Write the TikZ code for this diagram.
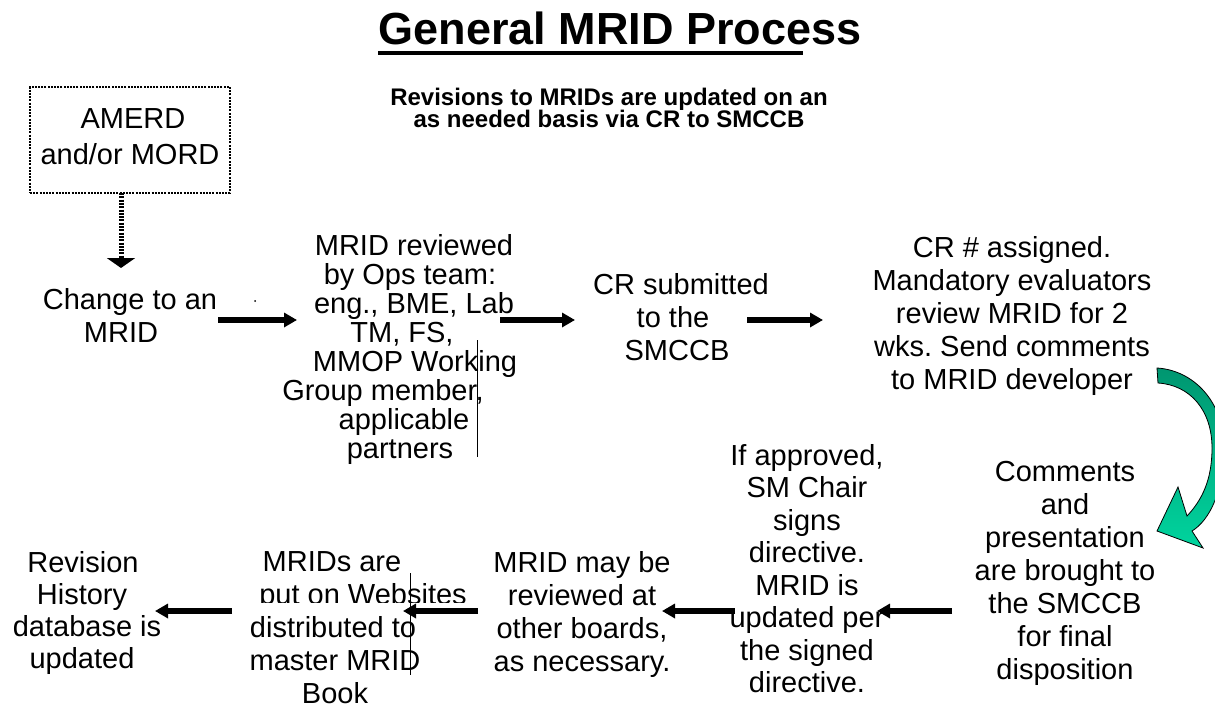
\documentclass[tikz,border=0pt]{standalone}
\usepackage{fontspec}
\setmainfont{Liberation Sans}
\usetikzlibrary{arrows.meta}
\definecolor{swoopTop}{RGB}{0,150,112}
\definecolor{swoopBottom}{RGB}{0,212,158}
\frenchspacing
\begin{document}
\begin{tikzpicture}[x=1pt,y=-1pt,
  txt/.style={anchor=base, inner sep=0pt, font=\fontsize{29}{33}\selectfont},
  sub/.style={anchor=base, inner sep=0pt, font=\fontsize{24}{22}\selectfont\bfseries},
  flow/.style={line width=5.5pt, -{Triangle[length=13pt,width=14pt]}},
  guide/.style={line width=1pt},
  dotbox/.style={draw, line width=2.5pt, dash pattern=on 2pt off 1.2pt,
                 minimum width=200pt, minimum height=106pt, inner sep=0pt},
  dotflow/.style={line width=5pt, dash pattern=on 2pt off 1.3pt,
                  -{Triangle[length=10pt,width=28pt]}}]

\useasboundingbox (0,0) rectangle (1215,709);
\fill[white] (0,0) rectangle (1215,709);

% heading
\node[anchor=base, inner sep=0pt, font=\fontsize{45}{50}\selectfont\bfseries]
  (title) at (620,45) {General MRID Process};
\fill (378,51) rectangle (803,55.5);
\node[sub] (sub1) at (609,105) {Revisions to MRIDs are updated on an};
\node[sub] (sub2) at (609,127) {as needed basis via CR to SMCCB};

% source of changes
\node[dotbox] (amerd) at (130,140) {};
\node[txt] (amerd1) at (133,128) {AMERD};
\node[txt] (amerd2) at (130,164) {and/or MORD};
\coordinate (d0) at (121,193);
\coordinate (d1) at (121,268);
\draw[dotflow] (d0) -- (d1);

% upper row
\node[txt] (chg1) at (130,309) {Change to an};
\node[txt] (chg2) at (121,342) {MRID};

\node[txt] (rev1) at (414,255) {MRID reviewed};
\node[txt] (rev2) at (410,284) {by Ops team:};
\node[txt] (rev3) at (414,313) {eng., BME, Lab};
\node[txt] (rev4) at (402,342) {TM, FS,};
\node[txt] (rev5) at (415,371) {MMOP Working};
\node[txt] (rev6) at (383,400) {Group member,};
\node[txt] (rev7) at (404,429) {applicable};
\node[txt] (rev8) at (400,458) {partners};
\draw[guide] (477,340) -- (477,457);
\fill (255,301) circle (1pt);

\node[txt] (crs1) at (681,294) {CR submitted};
\node[txt] (crs2) at (673,327) {to the};
\node[txt] (crs3) at (677,360) {SMCCB};

\foreach \t [count=\i] in {CR \# assigned., Mandatory evaluators,
    review MRID for 2, wks. Send comments, to MRID developer}
  \node[txt] (asg\i) at (1012,224+33*\i) {\t};

\coordinate (u1s) at (218,320); \coordinate (u1e) at (297,320);
\coordinate (u2s) at (500,320); \coordinate (u2e) at (575,320);
\coordinate (u3s) at (747,320); \coordinate (u3e) at (823,320);
\draw[flow] (u1s) -- (u1e);
\draw[flow] (u2s) -- (u2e);
\draw[flow] (u3s) -- (u3e);

% curved turn-around arrow
\shade[top color=swoopTop, bottom color=swoopBottom, draw=black, line width=0.8pt]
  (1157,368) .. controls (1192,370) and (1224,400) .. (1224,448)
  .. controls (1224,490) and (1210,520) .. (1192,531)
  -- (1203,548) -- (1157,531) -- (1178,487) -- (1187,516)
  .. controls (1202,500) and (1212,480) .. (1212,448)
  .. controls (1212,410) and (1190,385) .. (1158,383) -- cycle;

% lower row
\foreach \t [count=\i] in {Comments, and, presentation, are brought to,
    the SMCCB, for final, disposition}
  \node[txt] (cmt\i) at (1065,448+33*\i) {\t};

\foreach \t [count=\i] in {{If approved,}, SM Chair, signs, directive.,
    MRID is, updated per, the signed, directive.}
  \node[txt] (apr\i) at (807,432.5+32.5*\i) {\t};

\foreach \t [count=\i] in {MRID may be, reviewed at, {other boards,}, as necessary.}
  \node[txt] (oth\i) at (582,539+33*\i) {\t};

\node[txt] (web1) at (332,571) {MRIDs are};
\node[txt] (web2) at (363,604) {put on Websites};
\fill[white] (248,603) rectangle (472,709);
\node[txt] (web3) at (333,637) {distributed to};
\node[txt] (web4) at (335,670) {master MRID};
\node[txt] (web5) at (335,703) {Book};
\draw[guide] (410,573) -- (410,675);

\node[txt] (his1) at (83,572) {Revision};
\node[txt] (his2) at (82,604) {History};
\node[txt] (his3) at (87,636) {database is};
\node[txt] (his4) at (82,668) {updated};

\coordinate (l1s) at (952,611); \coordinate (l1e) at (877,611);
\coordinate (l2s) at (735,611); \coordinate (l2e) at (662,611);
\coordinate (l3s) at (478,611); \coordinate (l3e) at (403,611);
\coordinate (l4s) at (232,611); \coordinate (l4e) at (155,611);
\draw[flow] (l1s) -- (l1e);
\draw[flow] (l2s) -- (l2e);
\draw[flow] (l3s) -- (l3e);
\draw[flow] (l4s) -- (l4e);
\end{tikzpicture}
\end{document}
